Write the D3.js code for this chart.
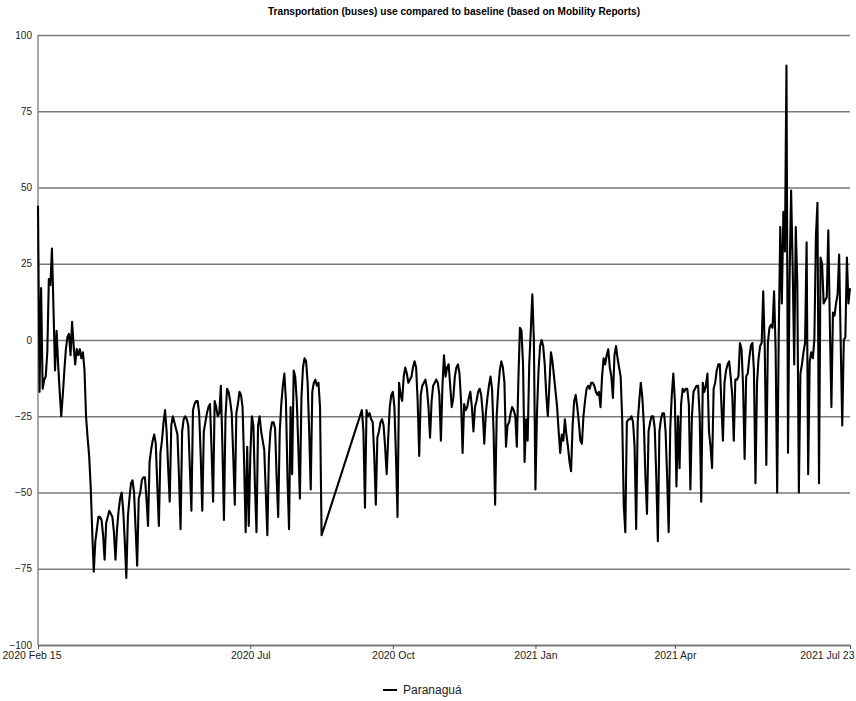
<!DOCTYPE html>
<html>
<head>
<meta charset="utf-8">
<script src="https://cdn.jsdelivr.net/npm/d3@7"></script>
<style>
  body { margin: 0; background: #fff; }
  svg { font-family: "Liberation Sans", Arial, sans-serif; }
</style>
</head>
<body>
<svg id="chart" width="856" height="701"></svg>
<script>
// Daily values, first run starts 2020-02-15 (Sat), second run after the gap starts 2020-09-11
const startA = "2020-02-15";
const valuesA = [
  44, -17,
  17, -16, -13, -12, -4, 20, 18,
  30, 10, -10, 3, -8, -17, -25,
  -18, -10, -3, 1, 2, -5, 6,
  -2, -8, -3, -5, -3, -6, -4,
  -10, -25, -32, -38, -48, -63, -76,
  -66, -62, -58, -58, -59, -64, -72,
  -60, -58, -56, -57, -58, -63, -72,
  -62, -56, -52, -50, -56, -66, -78,
  -58, -52, -47, -46, -50, -62, -74,
  -52, -50, -46, -45, -45, -52, -61,
  -40, -36, -33, -31, -34, -48, -61,
  -37, -33, -27, -23, -30, -42, -53,
  -28, -25, -27, -29, -31, -45, -62,
  -30, -26, -25, -26, -28, -42, -56,
  -23, -21, -20, -20, -24, -38, -56,
  -30, -27, -24, -22, -21, -36, -53,
  -20, -22, -25, -24, -15, -35, -59,
  -25, -16, -17, -20, -24, -38, -54,
  -24, -21, -17, -18, -22, -40, -63,
  -35, -61, -38, -25, -28, -48, -63,
  -28, -25, -30, -33, -36, -50, -64,
  -38, -30, -27, -27, -29, -45, -58,
  -30, -21, -15, -11, -20, -45, -62,
  -22, -44, -10, -12, -20, -35, -52,
  -19, -9, -6, -7, -14, -30, -49,
  -17, -14, -13, -15, -14, -22, -64
];
const startB = "2020-09-11";
const valuesB = [
  -23, -30, -55,
  -23, -25, -24, -26, -27, -38, -54,
  -32, -30, -27, -26, -28, -35, -44,
  -32, -22, -18, -17, -22, -38, -58,
  -14, -18, -20, -12, -9, -11, -14,
  -13, -12, -9, -7, -9, -20, -38,
  -18, -15, -14, -13, -16, -22, -32,
  -20, -15, -14, -13, -14, -18, -33,
  -15, -5, -12, -9, -8, -15, -22,
  -19, -12, -9, -8, -11, -20, -37,
  -21, -23, -22, -19, -17, -22, -30,
  -22, -20, -17, -16, -18, -24, -34,
  -24, -19, -15, -12, -16, -30, -54,
  -25, -16, -10, -7, -9, -14, -35,
  -28, -27, -24, -22, -23, -25, -35,
  -13, 4, 3, -8, -40, -26, -33,
  -8, 3, 15, 0, -49, -24, -10,
  -2, 0, -2, -8, -18, -25, -15,
  -4, -7, -12, -17, -22, -30, -37,
  -31, -33, -26, -31, -35, -40, -43,
  -28, -20, -18, -22, -27, -33, -34,
  -25, -20, -16, -15, -16, -14, -14,
  -15, -17, -18, -17, -22, -12, -6,
  -8, -5, -3, -9, -12, -19, -5,
  -2, -6, -9, -12, -26, -54, -63,
  -27, -26, -26, -25, -27, -35, -62,
  -27, -20, -14, -19, -28, -45, -57,
  -30, -27, -25, -25, -29, -45, -66,
  -30, -26, -24, -24, -30, -45, -63,
  -29, -18, -11, -20, -48, -25, -42,
  -21, -16, -17, -16, -16, -21, -49,
  -25, -17, -16, -15, -15, -25, -53,
  -14, -17, -15, -11, -30, -35, -42,
  -16, -14, -10, -8, -8, -21, -33,
  -14, -10, -8, -7, -12, -18, -33,
  -13, -13, -12, -1, -3, -15, -39,
  -12, -11, -6, -2, -1, -10, -47,
  -14, -6, -2, -1, 16, -3, -41,
  -1, 4, 5, 4, 16, -3, -50,
  1, 37, 12, 42, 29, 90, -37,
  20, 49, 24, -8, 37, 18, -50,
  -11, -8, -4, -1, 32, -44, -7,
  -4, -6, 0, 34, 45, -47, 27,
  25, 12, 13, 14, 36, 5, -22,
  9, 8, 12, 15, 28, -1, -28,
  0, 1, 27, 12, 17
];
const xTickDates = ["2020-02-15", "2020-07-01", "2020-10-01", "2021-01-01", "2021-04-01", "2021-07-23"];
const xTickLabels = ["2020 Feb 15", "2020 Jul", "2020 Oct", "2021 Jan", "2021 Apr", "2021 Jul 23"];
const yTicks = [-100, -75, -50, -25, 0, 25, 50, 75, 100];
const seriesName = "Paranaguá";
const title = "Transportation (buses) use compared to baseline (based on Mobility Reports)";

const parse = d3.timeParse("%Y-%m-%d");
const toPoints = (start, vals) => vals.map((v, i) => ({ date: d3.timeDay.offset(parse(start), i), value: v }));
const points = toPoints(startA, valuesA).concat(toPoints(startB, valuesB));

const svg = d3.select("#chart");
const plotLeft = 38, plotRight = 850, plotTop = 35, plotBottom = 645;

const x = d3.scaleTime()
  .domain([parse(xTickDates[0]), parse(xTickDates[xTickDates.length - 1])])
  .range([plotLeft, plotRight]);
const y = d3.scaleLinear().domain([-100, 100]).range([plotBottom, plotTop]);

// Title
svg.append("text")
  .attr("x", 454).attr("y", 15)
  .attr("text-anchor", "middle")
  .attr("font-size", 10).attr("font-weight", "bold")
  .attr("textLength", 372).attr("lengthAdjust", "spacingAndGlyphs")
  .attr("fill", "#000")
  .text(title);

// Horizontal grid + y labels
const yAxis = svg.append("g")
  .attr("transform", `translate(${plotLeft},0)`)
  .call(d3.axisLeft(y).tickValues(yTicks).tickSize(-(plotRight - plotLeft)).tickPadding(6));
yAxis.select(".domain").remove();
yAxis.selectAll(".tick line")
  .attr("stroke", "#7a7a7a")
  .attr("stroke-width", d => d === -100 ? 2 : 1.4);
yAxis.selectAll(".tick text")
  .attr("font-size", 10).attr("fill", "#222")
  .attr("font-family", "Liberation Sans, Arial, sans-serif");

// Vertical axis line
svg.append("line")
  .attr("x1", plotLeft).attr("x2", plotLeft)
  .attr("y1", plotTop).attr("y2", plotBottom)
  .attr("stroke", "#8a8a8a").attr("stroke-width", 1.5);

// X axis
const xAxis = svg.append("g")
  .attr("transform", `translate(0,${plotBottom})`)
  .call(d3.axisBottom(x)
    .tickValues(xTickDates.map(parse))
    .tickFormat((d, i) => xTickLabels[i])
    .tickSize(4).tickPadding(3));
xAxis.select(".domain").remove();
xAxis.selectAll(".tick line").attr("stroke", "#555");
xAxis.selectAll(".tick text")
  .attr("font-size", 10.5).attr("fill", "#222")
  .attr("font-family", "Liberation Sans, Arial, sans-serif");
xAxis.selectAll(".tick").filter((d, i) => i === 0).select("text")
  .attr("text-anchor", "start").attr("x", 2 - plotLeft);
xAxis.selectAll(".tick").filter((d, i) => i === xTickDates.length - 1).select("text")
  .attr("text-anchor", "end").attr("x", 854 - plotRight);

// Data line
const line = d3.line().x(d => x(d.date)).y(d => y(d.value));
svg.append("path")
  .datum(points)
  .attr("fill", "none")
  .attr("stroke", "#000")
  .attr("stroke-width", 2.1)
  .attr("stroke-linejoin", "round")
  .attr("d", line);

// Legend
const legend = svg.append("g").attr("transform", "translate(383,690)");
legend.append("line")
  .attr("x1", 0).attr("x2", 14)
  .attr("stroke", "#000").attr("stroke-width", 2);
legend.append("text")
  .attr("x", 20).attr("y", 4)
  .attr("font-size", 12).attr("fill", "#222")
  .text(seriesName);
</script>
</body>
</html>
